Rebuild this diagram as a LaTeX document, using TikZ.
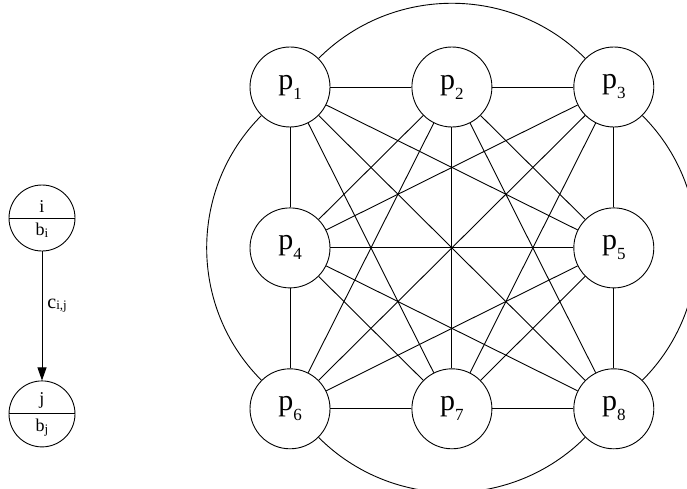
\documentclass[tikz,border=0pt]{standalone}
\usepackage{fontspec}
\setmainfont{Liberation Serif}
\usepackage{tikz}
\usetikzlibrary{shapes.multipart,arrows.meta,positioning}
\newcommand{\psub}[1]{\raisebox{-10pt}{\fontsize{17}{17}\selectfont #1}}
\newcommand{\bsub}[1]{\raisebox{-1.5pt}{\fontsize{13}{13}\selectfont #1}}

\begin{document}
\begin{tikzpicture}[
  x=1pt,y=1pt,line width=0.9pt,
  pn/.style={circle,draw,inner sep=0pt,minimum size=80pt,font=\fontsize{30}{30}\selectfont},
  sn/.style={circle split,draw,inner sep=5pt,minimum size=66pt,font=\fontsize{18}{18}\selectfont},
  arr/.style={-{Triangle[length=13pt,width=9pt]}},
  lbl/.style={inner sep=0pt,font=\fontsize{20}{20}\selectfont}
]
\useasboundingbox (0,0) rectangle (687,488);
% single edge legend
\node[sn] (i) at (42,270) {i \nodepart{lower} b\bsub{i}};
\node[sn,below=129pt of i] (j) {j \nodepart{lower} b\bsub{j}};
\draw[arr] (i) -- node[lbl,right,pos=0.42,xshift=5pt]{c\bsub{i,j}} (j);

% processors
\node[pn] (p1) at (290,401) {p\psub{1}};
\node[pn,right=81pt of p1] (p2) {p\psub{2}};
\node[pn,right=81pt of p2] (p3) {p\psub{3}};
\node[pn,below=80pt of p1] (p4) {p\psub{4}};
\node[pn,below=80pt of p3] (p5) {p\psub{5}};
\node[pn,below=80pt of p4] (p6) {p\psub{6}};
\node[pn,right=81pt of p6] (p7) {p\psub{7}};
\node[pn,right=81pt of p7] (p8) {p\psub{8}};

\foreach \a/\b in {p1/p2,p1/p4,p1/p5,p1/p7,p1/p8,
                   p2/p3,p2/p4,p2/p5,p2/p6,p2/p7,p2/p8,
                   p3/p4,p3/p5,p3/p6,p3/p7,
                   p4/p5,p4/p6,p4/p7,p4/p8,
                   p5/p6,p5/p7,p5/p8,
                   p6/p7,p7/p8}
  \draw (\a) -- (\b);

% outer edges
\draw (p1) to[bend left=45] (p3);
\draw (p3) to[bend left=45] (p8);
\draw (p8) to[bend left=45] (p6);
\draw (p6) to[bend left=45] (p1);
\end{tikzpicture}
\end{document}
